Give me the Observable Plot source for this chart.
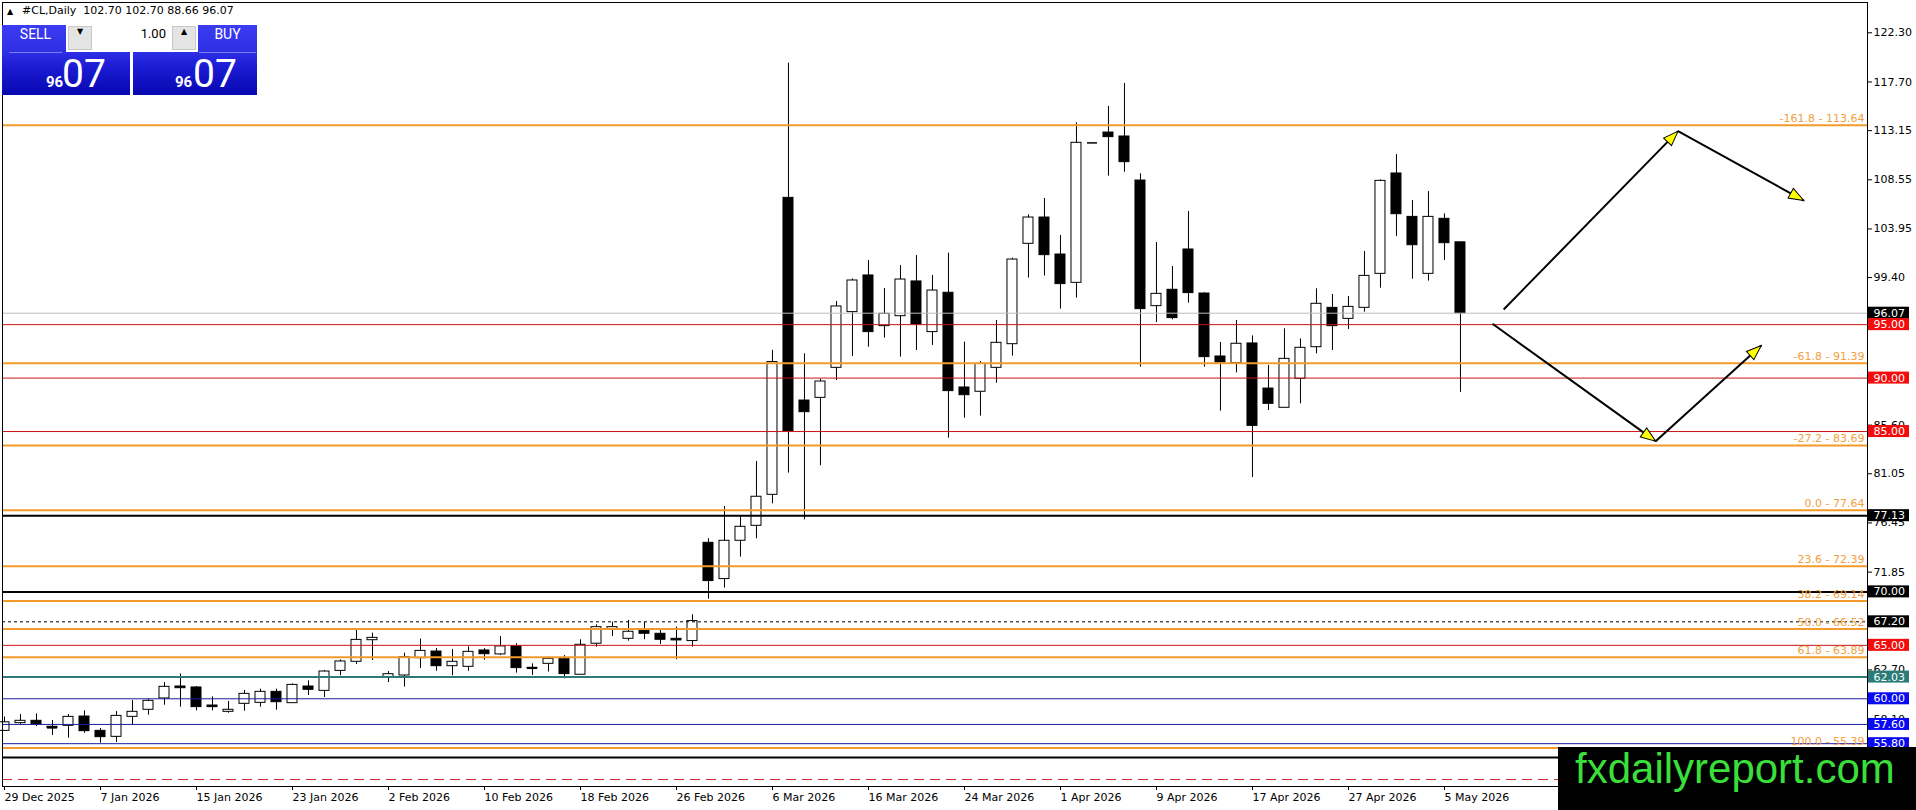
<!DOCTYPE html>
<html><head><meta charset="utf-8">
<script src="https://cdn.jsdelivr.net/npm/d3@7"></script>
<script src="https://cdn.jsdelivr.net/npm/@observablehq/plot@0.6"></script>
<style>
html,body{margin:0;padding:0;background:#fff;}
#wrap{position:relative;width:1916px;height:810px;overflow:hidden;background:#fff;}
#chart{position:absolute;left:0;top:0;}
.ov{position:absolute;}
#hdr{left:22px;top:4px;font:11px "DejaVu Sans";color:#000;white-space:pre;}
#tri{left:7px;top:7px;font:8px "DejaVu Sans";color:#000;}
.col{top:25px;height:70px;background:linear-gradient(to bottom,#3b3bf2 0%,#2f2fe6 38%,#1a1ad2 62%,#0808b0 100%);}
.btn{top:26px;height:26px;line-height:26px;text-align:center;color:#fff;font:14px Roboto;border-bottom:1px solid #7b7bff;}
#lot{left:66px;top:24px;width:132px;height:28px;background:#fff;}
.arrbox{top:26px;height:24px;width:24px;background:#e4e4e4;border:1px solid #c8c8c8;box-sizing:border-box;text-align:center;line-height:22px;font:8px "DejaVu Sans";color:#000;}
#lotval{left:93px;top:26px;width:73px;height:24px;line-height:24px;text-align:right;font:13px Roboto;color:#000;}
.sm{top:75px;font:bold 15px Roboto;line-height:15px;color:#fff;}
.lg{top:55px;font:39px Roboto;line-height:39px;color:#fff;}
#wm{left:1558px;top:747px;width:358px;height:63px;background:#000;}
#wmt{left:1575px;top:742px;font:42px "Liberation Sans";line-height:54px;color:#3ADF3A;white-space:nowrap;}
</style></head><body>
<div id="wrap">
<div id="chart"></div>
<div id="tri" class="ov">▲</div>
<div id="hdr" class="ov"></div>
<div class="ov col" style="left:2px;width:128px"></div>
<div class="ov col" style="left:133px;width:124px"></div>
<div class="ov btn" style="left:9px;width:53px">SELL</div>
<div class="ov btn" style="left:199px;width:57px">BUY</div>
<div id="lot" class="ov"></div>
<div class="ov arrbox" style="left:68px">▼</div>
<div class="ov arrbox" style="left:172px">▲</div>
<div id="lotval" class="ov">1.00</div>
<div class="ov sm" style="left:46px">96</div>
<div class="ov lg" style="left:62px">07</div>
<div class="ov sm" style="left:175px">96</div>
<div class="ov lg" style="left:193px">07</div>
<div id="wm" class="ov"></div>
<div id="wmt" class="ov">fxdailyreport.com</div>
</div>
<script>
// ---------- data ----------
const dates = ["29 Dec 2025","30 Dec 2025","31 Dec 2025","2 Jan 2026","5 Jan 2026","6 Jan 2026","7 Jan 2026","8 Jan 2026","9 Jan 2026","12 Jan 2026","13 Jan 2026","14 Jan 2026","15 Jan 2026","16 Jan 2026","19 Jan 2026","20 Jan 2026","21 Jan 2026","22 Jan 2026","23 Jan 2026","26 Jan 2026","27 Jan 2026","28 Jan 2026","29 Jan 2026","30 Jan 2026","2 Feb 2026","3 Feb 2026","4 Feb 2026","5 Feb 2026","6 Feb 2026","9 Feb 2026","10 Feb 2026","11 Feb 2026","12 Feb 2026","13 Feb 2026","16 Feb 2026","17 Feb 2026","18 Feb 2026","19 Feb 2026","20 Feb 2026","23 Feb 2026","24 Feb 2026","25 Feb 2026","26 Feb 2026","27 Feb 2026","2 Mar 2026","3 Mar 2026","4 Mar 2026","5 Mar 2026","6 Mar 2026","9 Mar 2026","10 Mar 2026","11 Mar 2026","12 Mar 2026","13 Mar 2026","16 Mar 2026","17 Mar 2026","18 Mar 2026","19 Mar 2026","20 Mar 2026","23 Mar 2026","24 Mar 2026","25 Mar 2026","26 Mar 2026","27 Mar 2026","30 Mar 2026","31 Mar 2026","1 Apr 2026","2 Apr 2026","3 Apr 2026","6 Apr 2026","7 Apr 2026","8 Apr 2026","9 Apr 2026","10 Apr 2026","13 Apr 2026","14 Apr 2026","15 Apr 2026","16 Apr 2026","17 Apr 2026","20 Apr 2026","21 Apr 2026","22 Apr 2026","23 Apr 2026","24 Apr 2026","27 Apr 2026","28 Apr 2026","29 Apr 2026","30 Apr 2026","1 May 2026","4 May 2026","5 May 2026","6 May 2026"];

const opens  = [57.00,57.72,57.94,57.38,57.47,58.34,57.00,56.44,58.31,58.97,60.03,61.15,61.06,59.37,58.78,59.53,59.62,60.65,59.59,61.15,60.74,62.61,63.46,65.48,61.96,62.18,63.80,64.42,63.05,62.99,64.52,64.15,64.90,62.90,63.27,63.74,62.25,65.15,66.45,65.61,66.36,66.08,65.61,65.40,74.59,71.20,74.78,76.18,79.08,106.86,87.90,88.15,90.96,96.17,99.60,94.86,95.79,99.04,94.30,97.98,89.12,88.72,90.96,93.17,102.56,105.02,101.56,98.91,112.00,112.97,112.60,108.48,96.73,98.26,102.03,97.91,92.02,91.40,93.24,89.02,87.22,89.93,92.89,96.57,95.54,96.57,99.75,109.14,105.08,99.75,104.90,102.70];
const highs  = [58.30,58.53,58.59,57.97,58.53,58.87,57.22,58.81,59.84,59.96,61.52,62.33,61.15,60.18,59.75,60.77,60.90,60.90,61.40,61.68,62.65,63.64,66.48,66.14,62.55,64.27,65.58,64.70,64.61,64.86,64.70,65.83,65.15,63.27,63.90,64.05,65.52,66.92,67.17,67.33,67.14,66.52,66.70,67.86,74.97,77.99,77.15,82.20,92.60,119.46,92.27,89.90,97.17,99.28,101.00,98.38,100.53,101.47,99.60,101.69,93.36,91.55,95.39,101.22,105.27,106.80,103.34,113.88,112.00,115.41,117.56,109.11,102.68,100.44,105.58,97.98,93.33,95.39,93.95,91.18,94.61,93.67,98.35,97.82,97.63,101.84,108.55,110.91,106.61,107.45,105.36,102.70];
const lows   = [56.95,57.60,57.40,56.57,56.32,56.78,55.85,55.91,57.56,58.47,59.40,59.22,58.87,58.87,58.65,58.84,59.22,58.93,59.56,60.31,60.12,62.15,63.21,63.58,61.52,61.09,62.83,62.58,62.15,62.58,63.61,64.05,62.40,62.18,62.50,61.87,62.25,64.83,65.83,65.39,65.52,65.08,63.65,64.83,69.32,70.35,73.25,74.97,78.24,81.11,76.74,81.80,89.77,92.02,92.89,93.74,91.96,92.58,93.05,84.38,86.25,86.44,89.52,92.05,99.35,99.54,96.45,97.48,112.00,108.89,109.26,91.02,95.20,95.45,97.01,91.02,86.91,90.49,80.70,86.97,87.20,87.59,92.27,92.58,94.54,96.17,98.41,103.24,99.25,99.07,101.00,88.66];
const closes = [57.80,57.94,57.59,57.28,58.31,56.97,56.41,58.40,58.78,59.81,61.12,60.99,59.22,59.22,58.97,60.46,60.65,59.68,61.30,60.84,62.55,63.49,65.51,65.70,62.30,63.89,64.48,63.05,63.46,64.39,64.17,64.90,62.87,62.85,63.74,62.31,65.05,66.70,66.70,66.27,66.08,65.52,65.46,67.27,71.01,74.78,76.09,78.90,91.50,85.03,86.81,89.68,96.70,99.13,94.30,96.01,99.22,95.01,98.19,88.78,88.40,91.33,93.30,101.09,105.02,101.50,98.79,112.01,112.00,112.54,110.20,96.45,97.88,95.61,97.95,91.96,91.46,93.21,85.53,87.59,91.80,92.83,96.95,94.86,96.66,99.56,108.45,105.33,102.43,105.08,102.62,96.07];

const xTickIdx = [0,6,12,18,24,30,36,42,48,54,60,66,72,78,84,90];
// axis ticks (those fully hidden under the level boxes are not drawn)
const yTicks = [122.30,117.70,113.15,108.55,103.95,99.40,85.60,81.05,76.45,71.85,62.70,58.10];

const fibRatios = ["-161.8","-61.8","-27.2","0.0","23.6","38.2","50.0","61.8","100.0"];
const fibPrices = [113.64,91.39,83.69,77.64,72.39,69.14,66.52,63.89,55.39];
const redLevels = [95.00,90.00,85.00,65.00];
const blackLevels = [77.13,70.00,54.50];
const dashedLevels = [67.20];
const tealLevels = [62.03];
const blueLevels = [60.00,57.60,55.80];
const redDashedLevels = [52.45];
const lastPrice = [96.07];

// forecast arrows (bar index, price)
const arrowX1 = [93.7,104.6,93.0,103.2];
const arrowY1 = [96.42,113.10,95.08,84.10];
const arrowX2 = [104.6,112.46,103.2,109.8];
const arrowY2 = [113.10,106.61,84.10,93.05];

// ---------- build ----------
const bars = dates.map((d,i)=>({i, date:d, o:opens[i], h:highs[i], l:lows[i], c:closes[i]}));
const n = bars.length-1;
document.getElementById("hdr").textContent =
  `#CL,Daily  ${opens[n].toFixed(2)} ${highs[n].toFixed(2)} ${lows[n].toFixed(2)} ${closes[n].toFixed(2)}`;

const W = 1916, H = 810, mL = 2, mR = 49, mT = 2, mB = 24;
const xDomain = [-0.125, 116.44];
const yDomain = [51.795, 125.134];
const xs = d3.scaleLinear().domain(xDomain).range([mL, W-mR]);
const ys = d3.scaleLinear().domain(yDomain).range([H-mB, mT]);

const ORANGE = "#F39A2B", ORANGE_T = "#F2A03E", RED = "#CC1414", RED_BOX = "#F20C0C",
      BLUE = "#1C1CA6", BLUE_BOX = "#0A0AF2", TEAL = "#2B7C78";

const half = 0.3125;
const bull = bars.filter(d=>d.c>=d.o), bear = bars.filter(d=>d.c<d.o);
const flat = bars.filter(d=>Math.abs(d.c-d.o)*10.69 < 1.2);

const fibRows = fibPrices.map((p,k)=>({p, r:fibRatios[k]}));
const boxes = [
  ...lastPrice.map(v=>({v,col:"#000"})),
  ...redLevels.map(v=>({v,col:RED_BOX})),
  ...blackLevels.map(v=>({v,col:"#000"})),
  ...dashedLevels.map(v=>({v,col:"#000"})),
  ...tealLevels.map(v=>({v,col:TEAL})),
  ...blueLevels.map(v=>({v,col:BLUE_BOX}))
];
const arrows = arrowX1.map((x,k)=>({x1:x,y1:arrowY1[k],x2:arrowX2[k],y2:arrowY2[k]}));
arrows.forEach(a=>{ a.ang = Math.atan2(ys(a.y2)-ys(a.y1), xs(a.x2)-xs(a.x1))*180/Math.PI; });
const arrowHead = {draw(ctx){ ctx.moveTo(0,0); ctx.lineTo(-15,-5.5); ctx.lineTo(-15,5.5); ctx.closePath(); }};

function boxMarks(col){
  const data = boxes.filter(b=>b.col===col);
  return [
    Plot.rect(data,{y1:"v",y2:"v",insetTop:-6,insetBottom:-6,insetLeft:W-mR-mL+1,insetRight:-(mR-7),fill:col}),
    Plot.text(data,{y:"v",text:d=>d.v.toFixed(2),frameAnchor:"right",textAnchor:"start",dx:6,fill:"white",fontSize:11})
  ];
}

const chart = Plot.plot({
  width: W, height: H,
  marginLeft: mL, marginRight: mR, marginTop: mT, marginBottom: mB,
  x: {type:"linear", domain: xDomain},
  y: {type:"linear", domain: yDomain},
  style: {fontFamily:"DejaVu Sans", fontSize:"11px", background:"white", color:"black", overflow:"visible"},
  marks: [
    // candles
    Plot.ruleX(bars,{x:d=>d.i, y1:d=>d.l, y2:d=>d.h, stroke:"black", strokeWidth:1}),
    Plot.rect(bull,{x1:d=>d.i-half, x2:d=>d.i+half, y1:d=>d.o, y2:d=>d.c, fill:"white", stroke:"black", strokeWidth:1}),
    Plot.rect(bear,{x1:d=>d.i-half, x2:d=>d.i+half, y1:d=>d.c, y2:d=>d.o, fill:"black", stroke:"black", strokeWidth:1}),
    Plot.ruleY(flat,{y:d=>d.c, x1:d=>d.i-half, x2:d=>d.i+half, stroke:"black", strokeWidth:1.5}),
    // horizontal levels
    Plot.ruleY(lastPrice,{stroke:"#BDBDBD", strokeWidth:1}),
    Plot.ruleY(redLevels,{stroke:RED, strokeWidth:1}),
    Plot.ruleY(blueLevels,{stroke:BLUE, strokeWidth:1}),
    Plot.ruleY(redDashedLevels,{stroke:"#D02828", strokeWidth:1.2, strokeDasharray:"10,6"}),
    Plot.ruleY(dashedLevels,{stroke:"black", strokeWidth:1, strokeDasharray:"3,3"}),
    Plot.ruleY(tealLevels,{stroke:TEAL, strokeWidth:2}),
    Plot.ruleY(blackLevels,{stroke:"black", strokeWidth:2}),
    Plot.ruleY(fibPrices,{stroke:ORANGE, strokeWidth:2}),
    Plot.text(fibRows,{y:"p", text:d=>`${d.r} - ${d.p.toFixed(2)}`, frameAnchor:"right", textAnchor:"end", dx:-3, dy:-7, fill:ORANGE_T, fontSize:11}),
    // forecast arrows
    Plot.link(arrows,{x1:"x1",y1:"y1",x2:"x2",y2:"y2",stroke:"black",strokeWidth:2}),
    Plot.dot(arrows,{x:"x2",y:"y2",symbol:arrowHead,rotate:"ang",fill:"#FFFF00",stroke:"black",strokeWidth:1}),
    // frame & axes
    Plot.frame({stroke:"black", strokeWidth:1}),
    Plot.axisY(yTicks,{anchor:"right", tickFormat:d=>d.toFixed(2), tickSize:4, tickPadding:2, fontSize:11, label:null}),
    Plot.axisX(xTickIdx,{anchor:"bottom", tickFormat:d=>dates[d], tickSize:4, tickPadding:3, textAnchor:"start", dx:0, fontSize:11, label:null}),
    // price label boxes on the axis
    ...boxMarks("#000"), ...boxMarks(RED_BOX), ...boxMarks(TEAL), ...boxMarks(BLUE_BOX)
  ]
});
document.getElementById("chart").appendChild(chart);
</script>
</body></html>
